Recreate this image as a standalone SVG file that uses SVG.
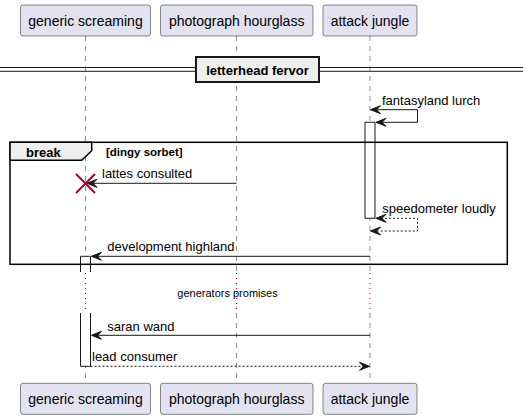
<svg xmlns="http://www.w3.org/2000/svg" width="523" height="419" viewBox="0 0 523 419">
<style>
.part{fill:#E2E2F0;stroke:#181818;stroke-width:0.5}
.pt{font-family:"Liberation Sans",Arial,sans-serif;font-size:14px;fill:#000}
.life{stroke:#181818;stroke-width:0.5;stroke-dasharray:5,5;fill:none}
.delay{stroke:#A80036;stroke-width:1;stroke-dasharray:1,4;fill:none}
.msg{stroke:#181818;stroke-width:1;fill:none}
.dash{stroke:#181818;stroke-width:1;stroke-dasharray:2,2;fill:none}
.ah{fill:#181818;stroke:#181818;stroke-width:1}
.mt{font-family:"Liberation Sans",Arial,sans-serif;font-size:13px;fill:#000}
.act{fill:#FFFFFF;stroke:#181818;stroke-width:1}
.bold{font-family:"Liberation Sans",Arial,sans-serif;font-weight:bold;fill:#000}
</style>
<g id="lifelines">
<line class="life" x1="85.5" y1="36" x2="85.5" y2="272"/>
<line class="life" x1="85.5" y1="313" x2="85.5" y2="383"/>
<line class="life" x1="236.5" y1="36" x2="236.5" y2="272"/>
<line class="life" x1="236.5" y1="313" x2="236.5" y2="383"/>
<line class="life" x1="370" y1="36" x2="370" y2="272"/>
<line class="life" x1="370" y1="313" x2="370" y2="383"/>
<line class="delay" x1="85.5" y1="273" x2="85.5" y2="313"/>
<line class="delay" x1="236.5" y1="273" x2="236.5" y2="313"/>
<line class="delay" x1="370" y1="273" x2="370" y2="313"/>
</g>
<g id="p-generic-screaming">
<rect class="part" x="20.5" y="5" width="130" height="31" rx="2.5"/>
<text class="pt" x="85.5" y="26" text-anchor="middle">generic screaming</text>
<rect class="part" x="20.5" y="383.3" width="130" height="31" rx="2.5"/>
<text class="pt" x="85.5" y="404.3" text-anchor="middle">generic screaming</text>
</g>
<g id="p-photograph-hourglass">
<rect class="part" x="160.5" y="5" width="152.5" height="31" rx="2.5"/>
<text class="pt" x="236.7" y="26" text-anchor="middle">photograph hourglass</text>
<rect class="part" x="160.5" y="383.3" width="152.5" height="31" rx="2.5"/>
<text class="pt" x="236.7" y="404.3" text-anchor="middle">photograph hourglass</text>
</g>
<g id="p-attack-jungle">
<rect class="part" x="323" y="5" width="94" height="31" rx="2.5"/>
<text class="pt" x="370" y="26" text-anchor="middle">attack jungle</text>
<rect class="part" x="323" y="383.3" width="94" height="31" rx="2.5"/>
<text class="pt" x="370" y="404.3" text-anchor="middle">attack jungle</text>
</g>
<g id="divider">
<line x1="0" y1="67.5" x2="523" y2="67.5" stroke="#181818" stroke-width="1"/>
<line x1="0" y1="71.3" x2="523" y2="71.3" stroke="#181818" stroke-width="1"/>
<rect x="196" y="57" width="123" height="25" fill="#EEEEEE" stroke="#181818" stroke-width="2"/>
<text class="bold" x="257.5" y="75" font-size="13" text-anchor="middle">letterhead fervor</text>
</g>
<g id="activations">
<rect class="act" x="365" y="122.3" width="10" height="96"/>
<path class="act" d="M80.5,272 L80.5,256.3 L90.5,256.3 L90.5,272"/>
<path class="act" d="M80.5,313 L80.5,366.3 L90.5,366.3 L90.5,313" fill="#FFFFFF"/>
</g>
<g id="break-frame">
<rect x="10" y="142.3" width="497.3" height="122" fill="none" stroke="#000" stroke-width="1.5"/>
<polygon points="10,142.3 91.7,142.3 91.7,150.7 81.7,160.3 10,160.3" fill="#EEEEEE" stroke="#000" stroke-width="1.5"/>
<text class="bold" x="26" y="156.5" font-size="13">break</text>
<text class="bold" x="106" y="156" font-size="11.5">[dingy sorbet]</text>
</g>
<g id="connectors">
<path class="msg" d="M372,109.7 L417.5,109.7 L417.5,122.3 L377,122.3"/>
<polygon class="ah" points="370.5,109.7 380.5,105.7 376.5,109.7 380.5,113.7"/>
<polygon class="ah" points="376,122.3 386,118.3 382,122.3 386,126.3"/>
<text class="mt" x="382" y="104.5">fantasyland lurch</text>

<line class="msg" x1="88" y1="183.3" x2="236.5" y2="183.3"/>
<polygon class="ah" points="87,183.3 97,179.3 93,183.3 97,187.3"/>
<text class="mt" x="102" y="177.7">lattes consulted</text>
<g stroke="#A80036" stroke-width="2">
<line x1="76" y1="174" x2="95" y2="193"/>
<line x1="95" y1="174" x2="76" y2="193"/>
</g>

<path class="dash" d="M377,218.3 L417.5,218.3 L417.5,231 L371,231"/>
<polygon class="ah" points="376,218.3 386,214.3 382,218.3 386,222.3"/>
<polygon class="ah" points="370.5,231 380.5,227 376.5,231 380.5,235"/>
<text class="mt" x="382.3" y="213.3">speedometer loudly</text>

<line class="msg" x1="92" y1="256.3" x2="370" y2="256.3"/>
<polygon class="ah" points="91.5,256.3 101.5,252.3 97.5,256.3 101.5,260.3"/>
<text class="mt" x="107.3" y="250.7">development highland</text>

<text x="227.5" y="296.7" font-family="Liberation Sans, Arial, sans-serif" font-size="11" text-anchor="middle">generators promises</text>

<line class="msg" x1="92" y1="335.3" x2="370" y2="335.3"/>
<polygon class="ah" points="91.5,335.3 101.5,331.3 97.5,335.3 101.5,339.3"/>
<text class="mt" x="107.3" y="331">saran wand</text>

<line class="dash" x1="90.5" y1="366.3" x2="368" y2="366.3"/>
<polygon class="ah" points="369.5,366.3 359.5,362.3 363.5,366.3 359.5,370.3"/>
<text class="mt" x="92" y="360.7">lead consumer</text>
</g>
</svg>
